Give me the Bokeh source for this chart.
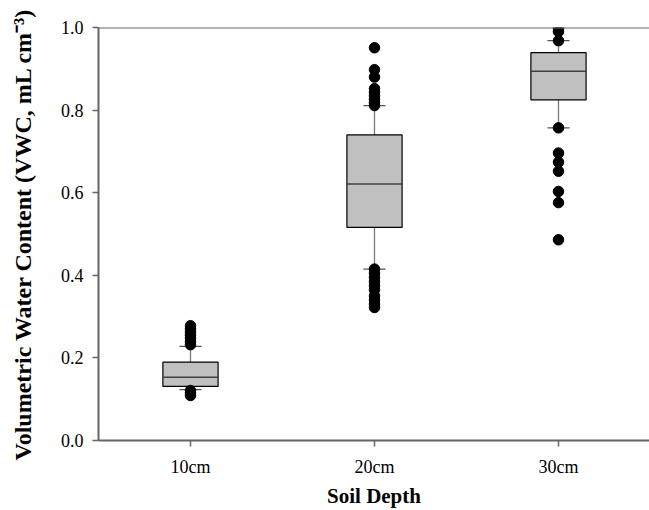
from bokeh.plotting import figure
from bokeh.models import FixedTicker, Span, ColumnDataSource, PrintfTickFormatter
from bokeh.embed import file_html
from bokeh.resources import INLINE

# ---- data ----
categories = ["10cm", "20cm", "30cm"]
positions = [1, 2, 3]
q1 = [0.131, 0.516, 0.825]
median = [0.153, 0.621, 0.894]
q3 = [0.190, 0.740, 0.939]
whisker_low = [0.123, 0.415, 0.757]
whisker_high = [0.228, 0.811, 0.968]
outliers_10 = [0.278, 0.270, 0.262, 0.255, 0.248, 0.240, 0.232, 0.121, 0.115, 0.109]
outliers_20 = [0.951, 0.898, 0.880, 0.852, 0.843, 0.835, 0.826, 0.818, 0.811,
               0.415, 0.405, 0.395, 0.385, 0.375, 0.365, 0.350, 0.340, 0.330, 0.322]
outliers_30 = [0.997, 0.990, 0.968, 0.757, 0.696, 0.674, 0.652, 0.603, 0.576, 0.486]
y_ticks = [0.0, 0.2, 0.4, 0.6, 0.8, 1.0]

box_w = 0.30
cap_w = 0.12

p = figure(width=649, height=510, x_range=(0.5, 3.4946), y_range=(0, 1.0),
           output_backend="svg", toolbar_location=None,
           min_border_left=98, min_border_right=0, min_border_top=27, min_border_bottom=70)
p.outline_line_color = None
p.xgrid.visible = False
p.ygrid.visible = False
p.background_fill_color = "white"

src = ColumnDataSource(dict(x=positions, q1=q1, med=median, q3=q3, lo=whisker_low, hi=whisker_high))

# whiskers
p.segment(x0="x", y0="q3", x1="x", y1="hi", source=src, line_color="#7a7a7a", line_width=1.3)
p.segment(x0="x", y0="lo", x1="x", y1="q1", source=src, line_color="#7a7a7a", line_width=1.3)
# caps
cap_src = ColumnDataSource(dict(
    x0=[x - cap_w / 2 for x in positions] * 2,
    x1=[x + cap_w / 2 for x in positions] * 2,
    y=whisker_high + whisker_low))
p.segment(x0="x0", y0="y", x1="x1", y1="y", source=cap_src, line_color="#555555", line_width=1.3)
# boxes
p.vbar(x="x", width=box_w, bottom="q1", top="q3", source=src,
       fill_color="#c0c0c0", line_color="black", line_width=1.2)
# medians
p.segment(x0=[x - box_w / 2 for x in positions], y0=median,
          x1=[x + box_w / 2 for x in positions], y1=median,
          line_color="#404040", line_width=1.6)
# outliers
ox = [1] * len(outliers_10) + [2] * len(outliers_20) + [3] * len(outliers_30)
oy = outliers_10 + outliers_20 + outliers_30
p.scatter(ox, oy, size=10.5, fill_color="black", line_color="black", marker="circle")

# top frame line
p.add_layout(Span(location=1.0, dimension="width", line_color="#666666", line_width=2))

# axes
for ax in (p.xaxis[0], p.yaxis[0]):
    ax.axis_line_color = "#666666"
    ax.axis_line_width = 2
    ax.major_tick_line_color = "#666666"
    ax.major_tick_line_width = 1.5
    ax.major_tick_out = 6
    ax.major_tick_in = 0
    ax.minor_tick_line_color = None
    ax.major_label_text_font = "Liberation Serif"
    ax.major_label_text_font_size = "18px"
    ax.major_label_text_color = "black"
    ax.axis_label_text_font = "Liberation Serif"
    ax.axis_label_text_font_style = "bold"
    ax.axis_label_text_color = "black"

p.xaxis.ticker = FixedTicker(ticks=positions)
p.xaxis.major_label_overrides = {pos: lab for pos, lab in zip(positions, categories)}
p.xaxis.axis_label = "Soil Depth"
p.xaxis.axis_label_text_font_size = "21px"
p.xaxis.major_label_standoff = 10
p.xaxis.axis_label_standoff = 4

p.yaxis.ticker = FixedTicker(ticks=y_ticks)
p.yaxis.formatter = PrintfTickFormatter(format="%.1f")
p.yaxis.axis_label = "Volumetric Water Content (VWC, mL cm\u207b\u00b3)"
p.yaxis.axis_label_text_font_size = "24px"
p.yaxis.major_label_standoff = 9
p.yaxis.axis_label_standoff = 22

open("out.html", "w").write(file_html(p, INLINE))
